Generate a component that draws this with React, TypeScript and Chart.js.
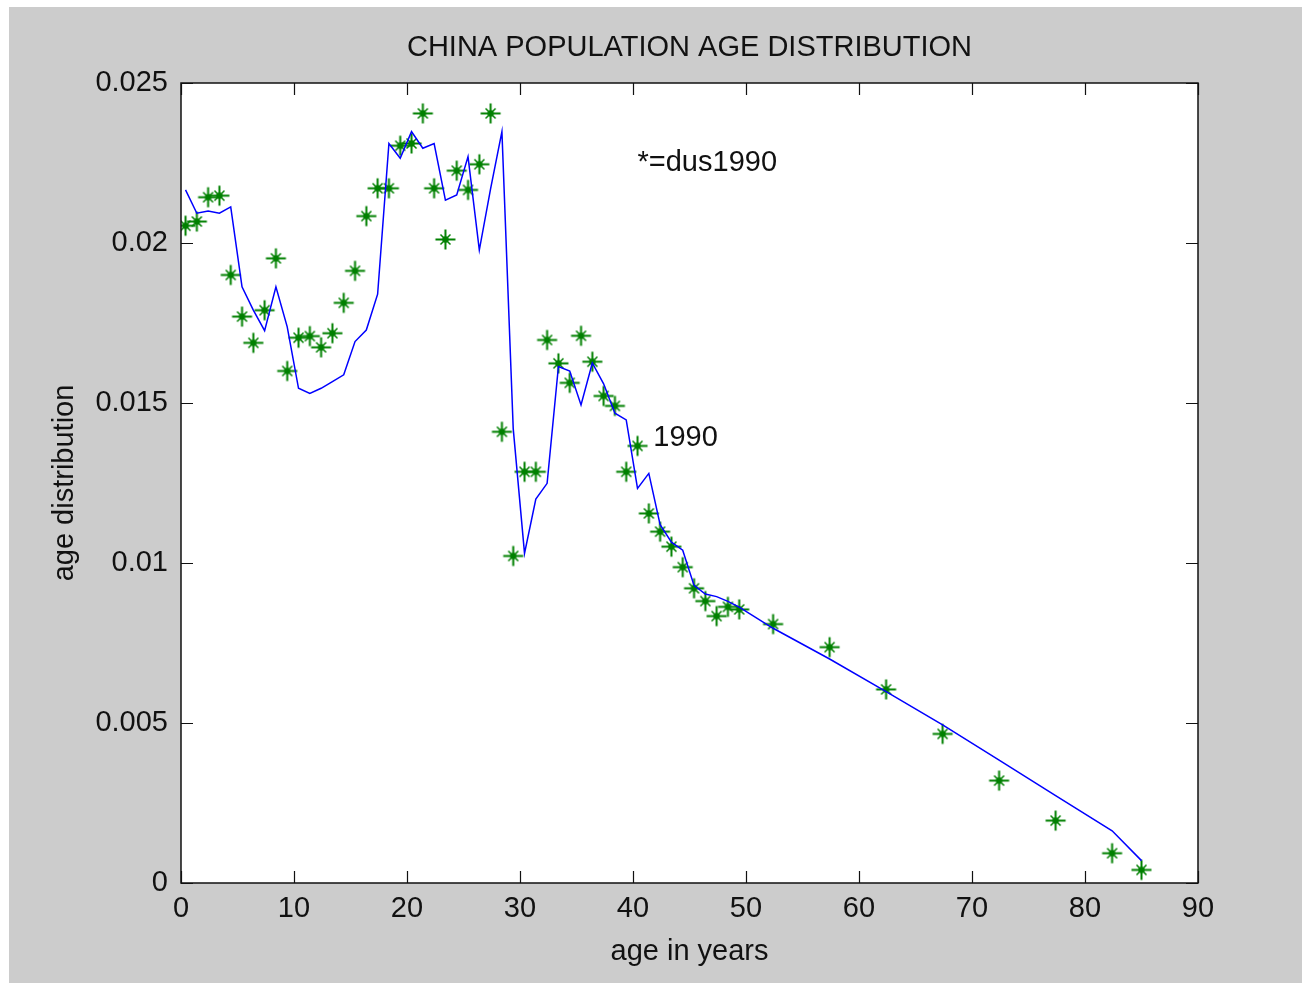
import React, { useEffect, useRef } from "react";
import { Chart, registerables } from "chart.js";

Chart.register(...registerables);

const chartTitle = "CHINA POPULATION AGE DISTRIBUTION";
const xAxisTitle = "age in years";
const yAxisTitle = "age distribution";
const legendNote = "*=dus1990";
const curveNote = "1990";

const xTickLabels = ["0", "10", "20", "30", "40", "50", "60", "70", "80", "90"];
const yTickLabels = ["0", "0.005", "0.01", "0.015", "0.02", "0.025"];

const ages = [
  0.4, 1.4, 2.4, 3.4, 4.4, 5.4, 6.4, 7.4, 8.4, 9.4,
  10.4, 11.4, 12.4, 13.4, 14.4, 15.4, 16.4, 17.4, 18.4, 19.4,
  20.4, 21.4, 22.4, 23.4, 24.4, 25.4, 26.4, 27.4, 28.4, 29.4,
  30.4, 31.4, 32.4, 33.4, 34.4, 35.4, 36.4, 37.4, 38.4, 39.4,
  40.4, 41.4, 42.4, 43.4, 44.4, 45.4, 46.4, 47.4, 48.4, 49.4,
  52.4, 57.4, 62.4, 67.4, 72.4, 77.4, 82.4, 85,
];

const dus1990 = [
  0.02054, 0.02067, 0.02143, 0.02148, 0.0190, 0.0177, 0.01688, 0.0179, 0.01952, 0.0160,
  0.01704, 0.01709, 0.01674, 0.01718, 0.01813, 0.01913, 0.02084, 0.02171, 0.02171, 0.02304,
  0.02311, 0.02405, 0.02171, 0.02011, 0.02226, 0.02166, 0.02246, 0.02405, 0.0141, 0.01022,
  0.01285, 0.01285, 0.01697, 0.01624, 0.01563, 0.0171, 0.01629, 0.01522, 0.01491, 0.01285,
  0.01366, 0.01155, 0.01098, 0.01051, 0.00987, 0.00921, 0.00881, 0.00834, 0.00863, 0.00855,
  0.00809, 0.00737, 0.00605, 0.00466, 0.0032, 0.00195, 0.00093, 0.00041,
];

const curve1990 = [
  0.02166, 0.02093, 0.0210, 0.02093, 0.02113, 0.01863, 0.0179, 0.01726, 0.01863, 0.01738,
  0.01546, 0.0153, 0.01546, 0.01567, 0.01588, 0.01692, 0.01728, 0.0184, 0.02311, 0.02265,
  0.02348, 0.02296, 0.02311, 0.02134, 0.0215, 0.0227, 0.01978, 0.0217, 0.02348, 0.0142,
  0.0103, 0.0120, 0.01249, 0.01614, 0.0160, 0.01494, 0.01625, 0.0156, 0.01468, 0.01447,
  0.01233, 0.0128, 0.0112, 0.01065, 0.0104, 0.0093, 0.00903, 0.00895, 0.0088, 0.00862,
  0.00796, 0.0070, 0.00598, 0.00494, 0.00384, 0.00273, 0.00163, 0.0007,
];

const FONT = "'Liberation Sans', Arial, Helvetica, sans-serif";
const TEXT = "#111111";

function makeStar(): HTMLCanvasElement {
  const c = document.createElement("canvas");
  c.width = 23;
  c.height = 23;
  const g = c.getContext("2d")!;
  const m = 11.5;
  g.strokeStyle = "#008000";
  g.fillStyle = "#008000";
  g.lineWidth = 2;
  g.beginPath();
  g.moveTo(m - 10, m);
  g.lineTo(m + 10, m);
  g.moveTo(m, m - 10);
  g.lineTo(m, m + 10);
  g.stroke();
  g.lineWidth = 1.5;
  g.beginPath();
  g.moveTo(m - 5, m - 5);
  g.lineTo(m + 5, m + 5);
  g.moveTo(m + 5, m - 5);
  g.lineTo(m - 5, m + 5);
  g.stroke();
  g.beginPath();
  g.arc(m, m, 3.2, 0, Math.PI * 2);
  g.fill();
  return c;
}

const framePlugin = {
  id: "matlabFrame",
  beforeDraw(chart: any) {
    const { ctx, chartArea: a } = chart;
    ctx.save();
    ctx.fillStyle = "#ffffff";
    ctx.fillRect(a.left, a.top, a.right - a.left, a.bottom - a.top);
    ctx.restore();
  },
  afterDraw(chart: any) {
    const { ctx, chartArea: a } = chart;
    const xs = chart.scales.x;
    const ys = chart.scales.y;
    const tl = 12;
    ctx.save();
    ctx.strokeStyle = "#111111";
    ctx.lineWidth = 1.5;
    ctx.beginPath();
    ctx.rect(a.left, a.top, a.right - a.left, a.bottom - a.top);
    ctx.stroke();
    ctx.lineWidth = 1.2;
    ctx.beginPath();
    xs.ticks.forEach((t: any) => {
      const px = Math.round(xs.getPixelForValue(t.value)) + 0.5;
      ctx.moveTo(px, a.bottom);
      ctx.lineTo(px, a.bottom - tl);
      ctx.moveTo(px, a.top);
      ctx.lineTo(px, a.top + tl);
    });
    ys.ticks.forEach((t: any) => {
      const py = Math.round(ys.getPixelForValue(t.value)) + 0.5;
      ctx.moveTo(a.left, py);
      ctx.lineTo(a.left + tl, py);
      ctx.moveTo(a.right, py);
      ctx.lineTo(a.right - tl, py);
    });
    ctx.stroke();

    ctx.fillStyle = TEXT;
    ctx.font = `29px ${FONT}`;
    ctx.textAlign = "center";
    ctx.textBaseline = "middle";
    const cx = (a.left + a.right) / 2;
    ctx.fillText(chartTitle, cx, 41);
    ctx.textBaseline = "alphabetic";
    ctx.fillText(xAxisTitle, cx, 953);
    ctx.save();
    ctx.translate(56, (a.top + a.bottom) / 2);
    ctx.rotate(-Math.PI / 2);
    ctx.textBaseline = "middle";
    ctx.fillText(yAxisTitle, 0, 0);
    ctx.restore();

    ctx.textAlign = "left";
    ctx.textBaseline = "middle";
    ctx.fillText(legendNote, xs.getPixelForValue(40.4), ys.getPixelForValue(0.0225));
    ctx.fillText(curveNote, xs.getPixelForValue(41.8), ys.getPixelForValue(0.0139));
    ctx.restore();
  },
};

export default function App() {
  const ref = useRef<HTMLCanvasElement | null>(null);
  useEffect(() => {
    if (!ref.current) return;
    const star = makeStar();
    const chart = new Chart(ref.current, {
      type: "line",
      data: {
        datasets: [
          {
            label: "model 1990",
            data: ages.map((a, i) => ({ x: a, y: curve1990[i] })),
            borderColor: "#0000ff",
            borderWidth: 1.5,
            pointRadius: 0,
            tension: 0,
            fill: false,
          },
          {
            label: "dus1990",
            data: ages.map((a, i) => ({ x: a, y: dus1990[i] })),
            showLine: false,
            pointStyle: star as any,
            pointRadius: 10,
            borderColor: "#008000",
            backgroundColor: "#008000",
          },
        ],
      },
      options: {
        animation: false,
        responsive: false,
        devicePixelRatio: 1,
        layout: { padding: { top: 76, right: 104, left: 0, bottom: 0 } },
        plugins: {
          legend: { display: false },
          title: { display: false },
          tooltip: { enabled: false },
        },
        scales: {
          x: {
            type: "linear",
            min: 0,
            max: 90,
            grid: { display: false, drawTicks: false },
            border: { display: false },
            ticks: {
              stepSize: 10,
              padding: 9,
              color: TEXT,
              font: { family: FONT, size: 29 },
              maxRotation: 0,
              callback: (_v: any, i: number) => xTickLabels[i],
            },
            afterFit: (s: any) => {
              s.height = 100;
            },
          },
          y: {
            type: "linear",
            min: 0,
            max: 0.025,
            grid: { display: false, drawTicks: false },
            border: { display: false },
            ticks: {
              stepSize: 0.005,
              padding: 13,
              color: TEXT,
              font: { family: FONT, size: 29 },
              callback: (_v: any, i: number) => yTickLabels[i],
            },
            afterFit: (s: any) => {
              s.width = 172;
            },
          },
        },
      },
      plugins: [framePlugin],
    });
    return () => chart.destroy();
  }, []);
  return (
    <div
      style={{
        position: "fixed",
        left: 9,
        top: 7,
        width: 1293,
        height: 976,
        background: "#cccccc",
      }}
    >
      <canvas ref={ref} width={1293} height={976} style={{ width: 1293, height: 976, display: "block" }} />
    </div>
  );
}
